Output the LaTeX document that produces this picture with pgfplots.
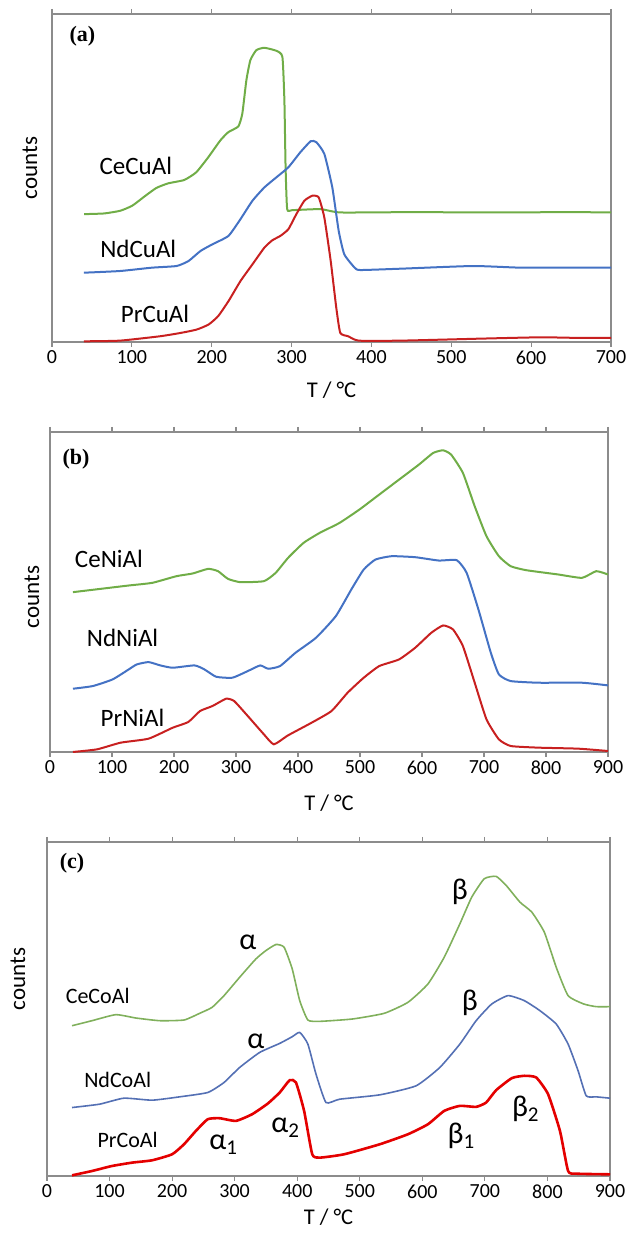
\documentclass[border=0pt]{standalone}
\usepackage{fontspec}
\setmainfont{Carlito}
\newfontfamily\tnr{Liberation Serif}
\usepackage{pgfplots}
\pgfplotsset{compat=1.18}
\definecolor{cgreen}{RGB}{112,173,71}
\definecolor{cblue}{RGB}{68,114,196}
\definecolor{cred}{RGB}{200,32,32}
\definecolor{cgreenc}{RGB}{128,176,92}
\definecolor{cbluec}{RGB}{84,112,180}
\definecolor{credc}{RGB}{228,0,0}
\definecolor{cframe}{RGB}{140,140,140}
\pgfplotsset{
  trp/.style={
    scale only axis, clip=false,
    axis line style={cframe, line width=1.3bp},
    ytick=\empty,
    tick align=outside,
    major tick length=5bp,
    x tick style={cframe, line width=1.2bp},
    /pgf/number format/assume math mode=true,
    ticklabel style={font=\fontsize{20bp}{23bp}\selectfont},
    xticklabel style={text=black},
    ymin=0, xmin=0,
    every axis plot/.append style={smooth, tension=0.3},
  },
}
\tikzset{
  lab/.style={font=\fontsize{25bp}{30bp}\selectfont, text=black},
  labc/.style={font=\fontsize{22bp}{26bp}\selectfont, text=black},
  grk/.style={font=\fontsize{30bp}{34bp}\selectfont, text=black},
  plab/.style={font=\tnr\bfseries\fontsize{22bp}{26bp}\selectfont},
  ylab/.style={font=\fontsize{23bp}{26bp}\selectfont, rotate=90},
  xlab/.style={font=\fontsize{22.5bp}{26bp}\selectfont},
}
\begin{document}
\begin{tikzpicture}[x=1bp,y=1bp]
\path[use as bounding box] (0,0) rectangle (626,1234);
% ---------------- (a) ----------------
\begin{axis}[trp, at={(52bp,892bp)}, anchor=south west,
  width=559bp, height=328bp, xmax=700, ymax=980,
  xtick={0,100,...,700}]
\addplot[cgreen, line width=2bp] coordinates {
(40.1,382)(65.2,384)(85.3,392)(100.4,407)(115.4,434)(130.5,460)(145.5,474)(165.6,484)
(180.6,507)(195.7,552)(210.7,602)(220.8,627)(233.3,644)(238.3,682)(243.4,782)(248.4,842)
(255.9,872)(265.9,879)(281,870)(288.5,852)(291,722)(292.5,522)(294.5,397)(301,394)
(336.2,397)(361.3,387)(450,388)(550,387)(650,388)(700,387)};
\addplot[cblue, line width=2bp] coordinates {
(40,207)(85,212)(125,222)(156,227)(171,242)(186,272)(201,292)(221,317)(236,367)
(251,422)(266,462)(281,492)(296,522)(311,567)(324,600)(331,597)(341,562)(351,462)
(359,332)(366,262)(379,222)(386,215)(437,219)(527,227)(587,222)(650,222)(700,222)};
\addplot[cred, line width=2bp] coordinates {
(40,2)(85,4)(135,17)(161,27)(181,37)(196,52)(208,77)(221,122)(236,182)(251,232)
(266,282)(276,304)(286,317)(296,337)(306,382)(316,422)(326,437)(334,432)(341,372)
(349,242)(356,102)(361,27)(371,17)(384,4)(437,4)(537,10)(612,14)(662,12)(700,12)};
\node[lab] at (axis cs:105,527) {CeCuAl};
\node[lab] at (axis cs:108,277) {NdCuAl};
\node[lab] at (axis cs:129,85) {PrCuAl};
\node[plab] at (axis cs:38,914) {(a)};
\node[ylab] at ([xshift=-22bp]axis description cs:0,0.53) {counts};
\node[xlab] at ([yshift=-48bp]axis description cs:0.5,0) {T / °C};
\end{axis}
% ---------------- (b) ----------------
\begin{axis}[trp, at={(50bp,482bp)}, anchor=south west,
  width=558bp, height=320bp, xmax=900, ymax=961,
  xtick={0,100,...,900}]
\addplot[cgreen, line width=2bp] coordinates {
(37,480)(82,490)(127,500)(165,508)(204,528)(230,536)(255,550)(271,543)(287,520)
(307,510)(345,513)(364,538)(384,583)(409,628)(435,658)(467,688)(499,728)(531,773)
(563,818)(595,863)(618,898)(634,906)(647,893)(666,838)(685,738)(704,648)(724,588)
(743,558)(768,546)(820,533)(858,523)(881,543)(900,533)};
\addplot[cblue, line width=2bp] coordinates {
(37,190)(69,198)(101,218)(127,248)(140,263)(159,270)(178,260)(198,253)(233,260)
(249,248)(268,226)(294,223)(319,243)(339,260)(352,250)(371,258)(396,298)(429,343)
(461,408)(486,488)(506,548)(525,578)(551,588)(589,585)(627,575)(656,576)(672,538)
(691,428)(711,298)(724,233)(743,213)(788,208)(858,208)(900,200)};
\addplot[cred, line width=2bp] coordinates {
(37,0)(76,8)(114,28)(159,40)(198,73)(223,90)(242,123)(262,138)(284,160)(297,153)
(319,108)(345,53)(361,23)(384,50)(422,88)(454,123)(480,178)(506,223)(531,258)
(563,278)(589,313)(615,358)(634,380)(650,368)(666,318)(685,208)(704,98)(724,38)
(743,18)(788,13)(852,10)(900,3)};
\node[lab] at (axis cs:95,581) {CeNiAl};
\node[lab] at (axis cs:117,343) {NdNiAl};
\node[lab] at (axis cs:133,103) {PrNiAl};
\node[plab] at (axis cs:42,878) {(b)};
\node[ylab] at ([xshift=-18bp]axis description cs:0,0.484) {counts};
\node[xlab] at ([yshift=-51bp]axis description cs:0.5,0) {T / °C};
\end{axis}
% ---------------- (c) ----------------
\begin{axis}[trp, at={(47bp,58bp)}, anchor=south west,
  width=563bp, height=334bp, xmax=900, ymax=1000,
  xtick={0,100,...,900}]
\addplot[cgreenc, line width=1.6bp] coordinates {
(40,450)(72,465)(110,483)(142,473)(180,465)(219,467)(244,487)(264,505)(283,540)
(308,595)(334,650)(350,675)(366,693)(379,685)(392,620)(404,525)(417,467)(436,463)
(488,470)(539,487)(577,520)(609,575)(635,655)(660,755)(679,835)(699,890)(718,897)
(734,870)(756,820)(775,790)(795,730)(814,625)(833,540)(858,515)(878,507)(900,507)};
\addplot[cbluec, line width=1.6bp] coordinates {
(40,205)(84,215)(123,233)(168,227)(212,237)(257,250)(283,280)(308,325)(340,370)
(372,397)(392,417)(404,430)(417,395)(430,305)(446,220)(468,230)(532,243)(590,270)
(628,325)(660,395)(686,465)(711,515)(737,540)(763,525)(788,495)(814,455)(833,395)
(849,315)(862,240)(878,237)(900,233)};
\addplot[credc, line width=2.6bp] coordinates {
(40,2)(72,15)(104,30)(136,40)(168,47)(200,65)(219,95)(238,135)(257,170)(276,173)
(302,165)(328,185)(353,217)(372,250)(388,287)(398,280)(411,195)(424,65)(436,55)
(475,65)(532,95)(577,125)(609,155)(635,195)(660,210)(686,207)(702,220)(718,257)
(743,293)(763,300)(782,295)(801,245)(820,135)(833,15)(846,7)(900,5)};
\node[labc] at (axis cs:81,540) {CeCoAl};
\node[labc] at (axis cs:113,287) {NdCoAl};
\node[labc] at (axis cs:129,107) {PrCoAl};
\node[grk] at (axis cs:321,700) {α};
\node[grk] at (axis cs:334,402) {α};
\node[grk] at (axis cs:660,850) {β};
\node[grk] at (axis cs:676,517) {β};
\node[grk] at (axis cs:282,95) {α\textsubscript{1}};
\node[grk] at (axis cs:381,145) {α\textsubscript{2}};
\node[grk] at (axis cs:662,120) {β\textsubscript{1}};
\node[grk] at (axis cs:765,200) {β\textsubscript{2}};
\node[plab] at (axis cs:40,935) {(c)};
\node[ylab] at ([xshift=-29bp]axis description cs:0,0.59) {counts};
\node[xlab] at ([yshift=-41bp]axis description cs:0.5,0) {T / °C};
\end{axis}
\end{tikzpicture}
\end{document}
